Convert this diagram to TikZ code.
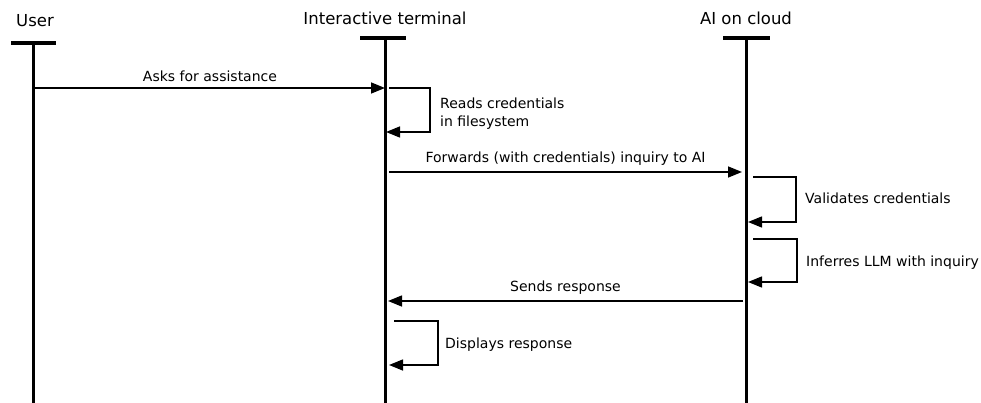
\documentclass[tikz,border=0pt]{standalone}
\usepackage{fontspec}
\setmainfont{DejaVu Sans}
\usetikzlibrary{arrows.meta}
\begin{document}
\begin{tikzpicture}[x=1pt,y=-1pt,
  lbl/.style={font=\fontsize{14}{18}\selectfont, inner sep=0pt},
  head/.style={font=\fontsize{16.5}{19}\selectfont, inner sep=0pt},
  life/.style={line width=3pt},
  bar/.style={line width=3.6pt},
  msg/.style={line width=1.5pt, -{Triangle[length=14pt,width=11pt]}},
  loopline/.style={line width=1.5pt, -{Triangle[length=14pt,width=11pt]}}]
\useasboundingbox (0,0) rectangle (981,403);
% heads
\node[head] (user) at (35,21) {User};
\node[head] (term) at (385,18) {Interactive terminal};
\node[head] (ai) at (746,18) {AI on cloud};
% head bars
\coordinate (ub1) at (11,43); \coordinate (ub2) at (56,43);
\coordinate (tb1) at (360,38); \coordinate (tb2) at (406,38);
\coordinate (ab1) at (723,38); \coordinate (ab2) at (770,38);
\draw[bar] (ub1) -- (ub2);
\draw[bar] (tb1) -- (tb2);
\draw[bar] (ab1) -- (ab2);
% lifelines
\coordinate (utop) at (33,43); \coordinate (ubot) at (33,404);
\coordinate (ttop) at (385,38); \coordinate (tbot) at (385,404);
\coordinate (atop) at (746,38); \coordinate (abot) at (746,404);
\draw[life] (utop) -- (ubot);
\draw[life] (ttop) -- (tbot);
\draw[life] (atop) -- (abot);
% message 1
\coordinate (m1s) at (35,88); \coordinate (m1e) at (385,88);
\draw[msg] (m1s) -- node[lbl, above=6pt] (l1) {Asks for assistance} (m1e);
% self loop 1
\coordinate (s1a) at (389,88); \coordinate (s1b) at (430,88);
\coordinate (s1c) at (430,132); \coordinate (s1d) at (386,132);
\draw[loopline] (s1a) -- (s1b) -- (s1c) -- (s1d);
\node[lbl, anchor=west, align=left] (l2) at (440,114) {Reads credentials\\in filesystem};
% message 2
\coordinate (m2s) at (389,172); \coordinate (m2e) at (742,172);
\draw[msg] (m2s) -- node[lbl, above=6pt] (l3) {Forwards (with credentials) inquiry to AI} (m2e);
% self loop 2
\coordinate (s2a) at (753,177); \coordinate (s2b) at (796,177);
\coordinate (s2c) at (796,222); \coordinate (s2d) at (748,222);
\draw[loopline] (s2a) -- (s2b) -- (s2c) -- (s2d);
\node[lbl, anchor=west] (l4) at (805,198) {Validates credentials};
% self loop 3
\coordinate (s3a) at (753,239); \coordinate (s3b) at (797,239);
\coordinate (s3c) at (797,282); \coordinate (s3d) at (748,282);
\draw[loopline] (s3a) -- (s3b) -- (s3c) -- (s3d);
\node[lbl, anchor=west] (l5) at (806,263) {Inferres LLM with inquiry};
% message 3
\coordinate (m3s) at (743,301); \coordinate (m3e) at (388,301);
\draw[msg] (m3s) -- node[lbl, above=6pt] (l6) {Sends response} (m3e);
% self loop 4
\coordinate (s4a) at (394,321); \coordinate (s4b) at (438,321);
\coordinate (s4c) at (438,365); \coordinate (s4d) at (389,365);
\draw[loopline] (s4a) -- (s4b) -- (s4c) -- (s4d);
\node[lbl, anchor=west] (l7) at (445,345) {Displays response};
\end{tikzpicture}
\end{document}
